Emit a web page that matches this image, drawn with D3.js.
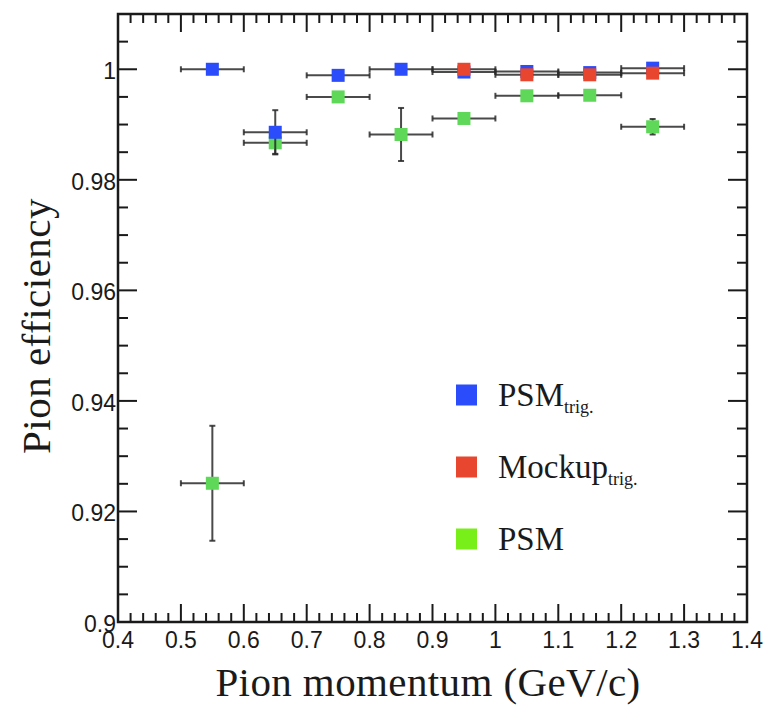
<!DOCTYPE html>
<html>
<head>
<meta charset="utf-8">
<script src="https://cdn.jsdelivr.net/npm/d3@7"></script>
<style>
  html, body { margin: 0; padding: 0; background: #fff; }
  svg { display: block; }
</style>
</head>
<body>
<svg id="chart" width="764" height="705"></svg>
<script>
// Pion efficiency vs. momentum, three selections
const momentum = [0.55, 0.65, 0.75, 0.85, 0.95, 1.05, 1.15, 1.25];
const binHalfWidth = 0.05;

const psmTrig    = [1.0000, 0.9886, 0.9989, 1.0000, 0.9995, 0.9996, 0.9994, 1.0002];
const psmTrigErr = [0.0004, 0.0040, 0.0005, 0.0004, 0.0004, 0.0004, 0.0004, 0.0004];

const mockupMomentum = [0.95, 1.05, 1.15, 1.25];
const mockupTrig     = [1.0000, 0.9990, 0.9990, 0.9993];
const mockupTrigErr  = [0.0004, 0.0004, 0.0004, 0.0004];

const psm    = [0.9251, 0.9867, 0.9950, 0.9882, 0.9911, 0.9952, 0.9953, 0.9896];
const psmErr = [0.0104, 0.0020, 0.0006, 0.0048, 0.0006, 0.0006, 0.0006, 0.0014];

const xMajorTicks = [0.4, 0.5, 0.6, 0.7, 0.8, 0.9, 1.0, 1.1, 1.2, 1.3, 1.4];
const xTickLabels = ["0.4", "0.5", "0.6", "0.7", "0.8", "0.9", "1", "1.1", "1.2", "1.3", "1.4"];
const yMajorTicks = [0.90, 0.92, 0.94, 0.96, 0.98, 1.00];
const yTickLabels = ["0.9", "0.92", "0.94", "0.96", "0.98", "1"];

const series = [
  { name: "PSM", sub: "", x: momentum, y: psm, err: psmErr, color: "#5fd85a", legendColor: "#78ef18" },
  { name: "PSM", sub: "trig.", x: momentum, y: psmTrig, err: psmTrigErr, color: "#2b4cfb", legendColor: "#2b4cfb" },
  { name: "Mockup", sub: "trig.", x: mockupMomentum, y: mockupTrig, err: mockupTrigErr, color: "#e8462f", legendColor: "#e8462f" }
];
const legendOrder = [1, 2, 0];

const svg = d3.select("#chart");
const plot = { left: 118, right: 747, top: 14, bottom: 622 };

const x = d3.scaleLinear().domain([0.4, 1.4]).range([plot.left, plot.right]);
const y = d3.scaleLinear().domain([0.9, 1.01]).range([plot.bottom, plot.top]);

const tickFont = "'Liberation Sans', Arial, sans-serif";
const titleFont = "'Liberation Serif', 'DejaVu Serif', serif";
const ink = "#1a1a1a";

// inward ticks on all four sides
const xMinor = d3.range(0, 51).map(i => 0.4 + i * 0.02).filter(v => v <= 1.4001);
const yMinor = d3.range(0, 23).map(i => 0.9 + i * 0.005).filter(v => v <= 1.0101);
const isMajorX = v => Math.abs(v * 10 - Math.round(v * 10)) < 1e-6;
const isMajorY = v => Math.abs(v * 50 - Math.round(v * 50)) < 1e-6;

const ticks = svg.append("g").attr("stroke", ink).attr("stroke-width", 2);
xMinor.forEach(v => {
  const len = isMajorX(v) ? 18 : 9;
  ticks.append("line").attr("x1", x(v)).attr("x2", x(v))
    .attr("y1", plot.bottom).attr("y2", plot.bottom - len);
  ticks.append("line").attr("x1", x(v)).attr("x2", x(v))
    .attr("y1", plot.top).attr("y2", plot.top + len);
});
yMinor.forEach(v => {
  const len = isMajorY(v) ? 19 : 10;
  ticks.append("line").attr("y1", y(v)).attr("y2", y(v))
    .attr("x1", plot.left).attr("x2", plot.left + len);
  ticks.append("line").attr("y1", y(v)).attr("y2", y(v))
    .attr("x1", plot.right).attr("x2", plot.right - len);
});

// frame
svg.append("rect")
  .attr("x", plot.left).attr("y", plot.top)
  .attr("width", plot.right - plot.left).attr("height", plot.bottom - plot.top)
  .attr("fill", "none").attr("stroke", ink).attr("stroke-width", 2.5);

// tick labels
svg.append("g").selectAll("text").data(xMajorTicks).join("text")
  .attr("x", d => x(d)).attr("y", 648)
  .attr("text-anchor", "middle")
  .attr("font-family", tickFont).attr("font-size", 23).attr("fill", ink)
  .text((d, i) => xTickLabels[i]);

svg.append("g").selectAll("text").data(yMajorTicks).join("text")
  .attr("x", plot.left - 2).attr("y", d => y(d) + 10)
  .attr("text-anchor", "end")
  .attr("font-family", tickFont).attr("font-size", 23).attr("fill", ink)
  .text((d, i) => yTickLabels[i]);

// axis titles
svg.append("text")
  .attr("x", 428).attr("y", 696)
  .attr("text-anchor", "middle")
  .attr("font-family", titleFont).attr("font-size", 41)
  .attr("letter-spacing", 0.4).attr("fill", ink)
  .text("Pion momentum (GeV/c)");

svg.append("text")
  .attr("transform", "translate(50,326) rotate(-90)")
  .attr("text-anchor", "middle")
  .attr("font-family", titleFont).attr("font-size", 41)
  .attr("letter-spacing", 0.5).attr("fill", ink)
  .text("Pion efficiency");

// error bars and markers
const capHalf = 3;
const markerSize = 13;
const dataLayer = svg.append("g");

series.forEach(s => {
  const pts = s.x.map((xv, i) => ({ x: xv, y: s.y[i], e: s.err[i] }));
  const g = dataLayer.append("g");
  const eb = g.append("g").attr("stroke", "#2a2a2a").attr("stroke-width", 2).attr("stroke-opacity", 0.85);
  pts.forEach(p => {
    const cx = x(p.x), cy = y(p.y);
    const x0 = x(p.x - binHalfWidth), x1 = x(p.x + binHalfWidth);
    eb.append("line").attr("x1", x0).attr("x2", x1).attr("y1", cy).attr("y2", cy);
    eb.append("line").attr("x1", x0).attr("x2", x0).attr("y1", cy - capHalf).attr("y2", cy + capHalf);
    eb.append("line").attr("x1", x1).attr("x2", x1).attr("y1", cy - capHalf).attr("y2", cy + capHalf);
    const y0 = y(p.y - p.e), y1 = y(p.y + p.e);
    eb.append("line").attr("x1", cx).attr("x2", cx).attr("y1", y0).attr("y2", y1);
    eb.append("line").attr("x1", cx - capHalf).attr("x2", cx + capHalf).attr("y1", y0).attr("y2", y0);
    eb.append("line").attr("x1", cx - capHalf).attr("x2", cx + capHalf).attr("y1", y1).attr("y2", y1);
  });
  g.selectAll("rect").data(pts).join("rect")
    .attr("x", d => x(d.x) - markerSize / 2)
    .attr("y", d => y(d.y) - markerSize / 2)
    .attr("width", markerSize).attr("height", markerSize)
    .attr("fill", s.color);
});

// legend
const legend = svg.append("g");
legendOrder.forEach((si, k) => {
  const s = series[si];
  const cy = 395 + k * 72;
  legend.append("rect")
    .attr("x", 456).attr("y", cy - 10.5)
    .attr("width", 21).attr("height", 21)
    .attr("fill", s.legendColor);
  const t = legend.append("text")
    .attr("x", 498).attr("y", cy + 10.5)
    .attr("font-family", titleFont).attr("font-size", 33).attr("fill", ink);
  t.append("tspan").text(s.name);
  if (s.sub) {
    t.append("tspan").attr("font-size", 18).attr("dy", 7).text(s.sub);
  }
});
</script>
</body>
</html>
